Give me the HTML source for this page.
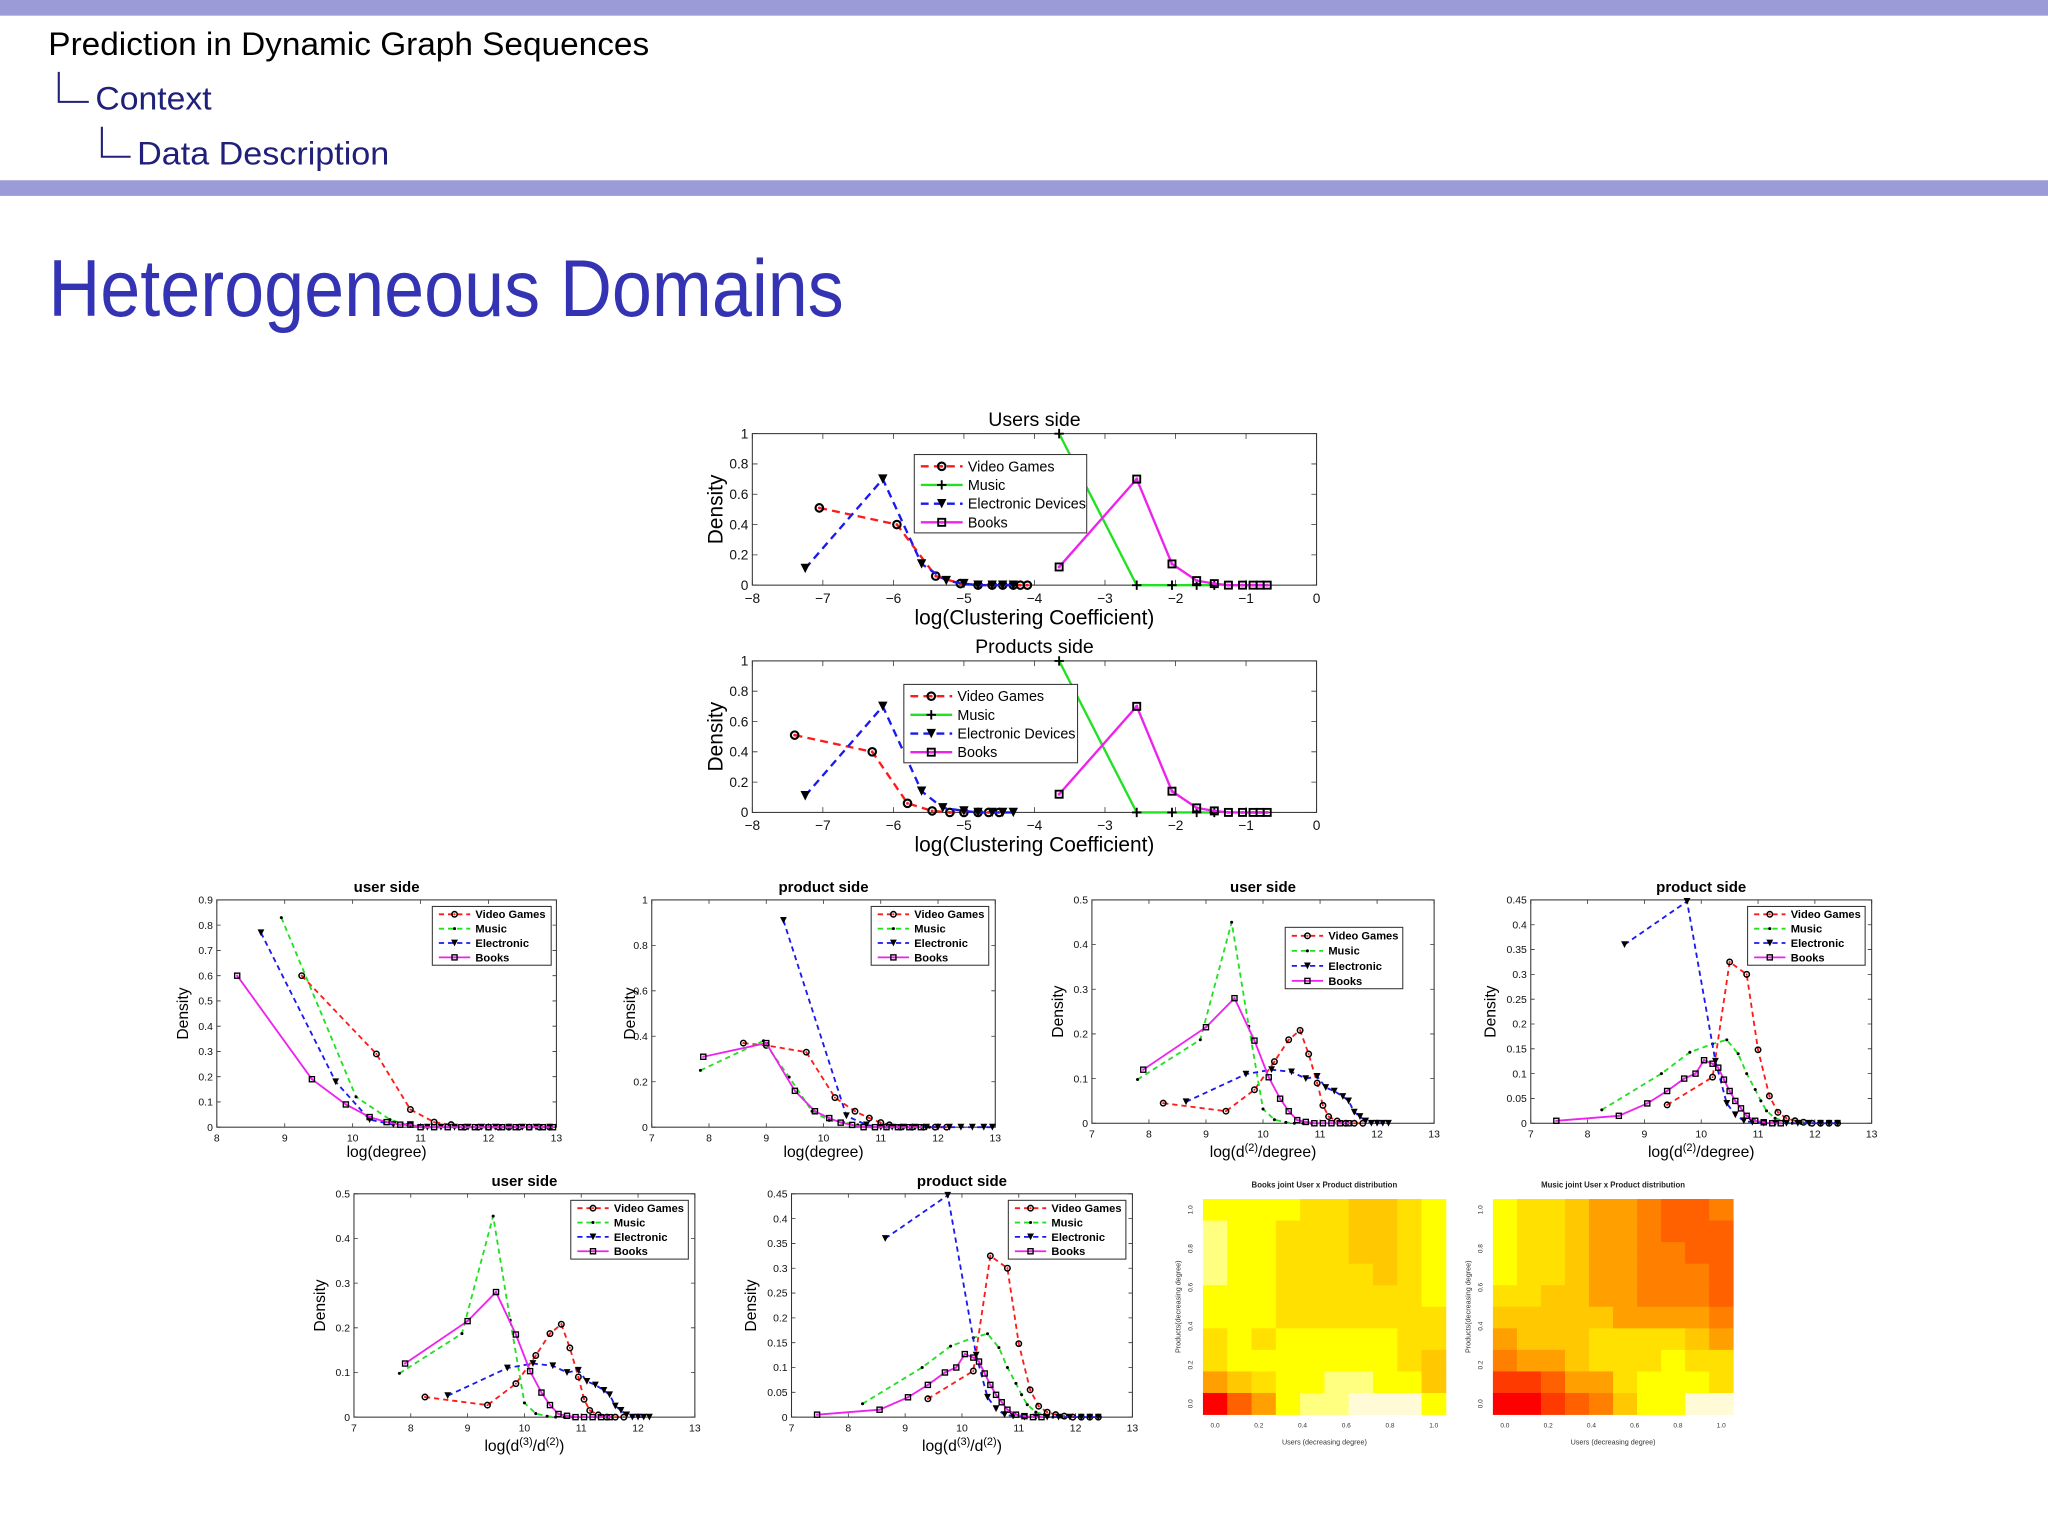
<!DOCTYPE html>
<html><head><meta charset="utf-8"><title>Heterogeneous Domains</title>
<style>html,body{margin:0;padding:0;background:#fff;}svg{display:block;font-family:"Liberation Sans",sans-serif;}</style>
</head><body>
<svg id="slide" width="2048" height="1536" viewBox="0 0 1568 1176" xmlns="http://www.w3.org/2000/svg">
<rect x="0" y="0" width="1568" height="12" fill="#9b9bd8"/>
<text x="37" y="42" font-size="25" fill="#000" textLength="460" lengthAdjust="spacingAndGlyphs">Prediction in Dynamic Graph Sequences</text>
<path d="M45 55 V78 H68" fill="none" stroke="#20207a" stroke-width="1.6"/>
<text x="73" y="84" font-size="25" fill="#20207a" textLength="89" lengthAdjust="spacingAndGlyphs">Context</text>
<path d="M78 97 V120 H100" fill="none" stroke="#20207a" stroke-width="1.6"/>
<text x="105" y="126" font-size="25" fill="#20207a" textLength="193" lengthAdjust="spacingAndGlyphs">Data Description</text>
<rect x="0" y="138" width="1568" height="12" fill="#9b9bd8"/>
<text x="37" y="242" font-size="62" fill="#3333b3" textLength="609" lengthAdjust="spacingAndGlyphs">Heterogeneous Domains</text>
</svg>
<script>
// ===== Clustering coefficient data =====
const ccUserVG_x = [-7.05,-5.95,-5.4,-5.05,-4.8,-4.6,-4.45,-4.3,-4.2,-4.1];
const ccUserVG_y = [0.51,0.40,0.06,0.01,0,0,0,0,0,0];
const ccUserMusic_x = [-3.65,-2.55,-2.05,-1.7,-1.45];
const ccUserMusic_y = [1,0,0,0,0];
const ccUserElec_x = [-7.25,-6.15,-5.6,-5.25,-5.0,-4.8,-4.6,-4.45,-4.3];
const ccUserElec_y = [0.11,0.70,0.14,0.03,0.01,0,0,0,0];
const ccUserBooks_x = [-3.65,-2.55,-2.05,-1.7,-1.45,-1.25,-1.05,-0.9,-0.8,-0.7];
const ccUserBooks_y = [0.12,0.70,0.14,0.03,0.01,0,0,0,0,0];
const ccProdVG_x = [-7.4,-6.3,-5.8,-5.45,-5.2,-5.0,-4.8,-4.65,-4.5];
const ccProdVG_y = [0.51,0.40,0.06,0.01,0,0,0,0,0];
const ccProdMusic_x = [-3.65,-2.55,-2.05,-1.7,-1.45];
const ccProdMusic_y = [1,0,0,0,0];
const ccProdElec_x = [-7.25,-6.15,-5.6,-5.3,-5.0,-4.8,-4.6,-4.45,-4.3];
const ccProdElec_y = [0.11,0.70,0.14,0.03,0.01,0,0,0,0];
const ccProdBooks_x = [-3.65,-2.55,-2.05,-1.7,-1.45,-1.25,-1.05,-0.9,-0.8,-0.7];
const ccProdBooks_y = [0.12,0.70,0.14,0.03,0.01,0,0,0,0,0];
const ccXTicks = [-8,-7,-6,-5,-4,-3,-2,-1,0];
const ccYTicks = [0,0.2,0.4,0.6,0.8,1];
const ccYTickLabels = ["0","0.2","0.4","0.6","0.8","1"];
const ccXTickLabels = ["\u22128","\u22127","\u22126","\u22125","\u22124","\u22123","\u22122","\u22121","0"];

// ===== Degree data =====
const degUserVG_x = [9.25,10.35,10.85,11.2,11.45,11.65,11.85,12.0,12.15,12.3,12.45,12.6,12.75,12.9];
const degUserVG_y = [0.60,0.29,0.07,0.02,0.01,0,0,0,0,0,0,0,0,0];
const degUserMusic_x = [8.95,10.05,10.55,10.8,11.05,11.3,11.5,11.7,11.9,12.1,12.3,12.5,12.7,12.9];
const degUserMusic_y = [0.83,0.12,0.03,0.01,0,0,0,0,0,0,0,0,0,0];
const degUserElec_x = [8.65,9.75,10.25,10.6,10.85,11.1,11.3,11.5,11.7,11.9,12.1,12.3,12.5,12.7,12.9];
const degUserElec_y = [0.77,0.18,0.03,0.01,0.01,0,0,0,0,0,0,0,0,0,0];
const degUserBooks_x = [8.3,9.4,9.9,10.25,10.5,10.7,10.85,11.0,11.2,11.4,11.6,11.8,12.0,12.2,12.4,12.6,12.8,12.95];
const degUserBooks_y = [0.60,0.19,0.09,0.04,0.02,0.01,0.01,0,0,0,0,0,0,0,0,0,0,0];
const degProdVG_x = [8.6,9.0,9.7,10.2,10.55,10.8,11.0,11.15,11.35,11.55,11.75,11.95,12.15];
const degProdVG_y = [0.37,0.36,0.33,0.13,0.07,0.04,0.02,0.01,0,0,0,0,0];
const degProdMusic_x = [7.85,8.95,9.4,9.8,10.1,10.35,10.6,10.85,11.1,11.35,11.6,11.85];
const degProdMusic_y = [0.25,0.38,0.22,0.07,0.03,0.02,0.01,0,0,0,0,0];
const degProdElec_x = [9.3,10.4,10.75,11.0,11.2,11.4,11.6,11.8,12.0,12.2,12.4,12.6,12.8,12.95];
const degProdElec_y = [0.91,0.05,0.01,0,0,0,0,0,0,0,0,0,0,0];
const degProdBooks_x = [7.9,9.0,9.5,9.85,10.1,10.3,10.5,10.7,10.9,11.1,11.3,11.5,11.7];
const degProdBooks_y = [0.31,0.37,0.16,0.07,0.04,0.02,0.01,0,0,0,0,0,0];

// ===== d2 / degree data =====
const d2UserVG_x = [8.25,9.35,9.85,10.2,10.45,10.65,10.8,10.95,11.05,11.15,11.3,11.45,11.6,11.75];
const d2UserVG_y = [0.045,0.027,0.075,0.138,0.187,0.208,0.155,0.09,0.04,0.015,0.005,0,0,0];
const d2UserMusic_x = [7.8,8.9,9.45,9.75,10.0,10.2,10.4,10.55,10.7,10.85];
const d2UserMusic_y = [0.098,0.187,0.45,0.217,0.032,0.008,0.002,0,0,0];
const d2UserElec_x = [8.65,9.7,10.15,10.5,10.75,10.95,11.1,11.25,11.4,11.5,11.6,11.7,11.8,11.9,12.0,12.1,12.2];
const d2UserElec_y = [0.048,0.11,0.12,0.115,0.1,0.105,0.08,0.072,0.06,0.05,0.025,0.015,0.005,0,0,0,0];
const d2UserBooks_x = [7.9,9.0,9.5,9.85,10.1,10.3,10.45,10.6,10.75,10.9,11.05,11.2,11.35,11.5];
const d2UserBooks_y = [0.12,0.215,0.28,0.185,0.103,0.055,0.027,0.007,0.003,0,0,0,0,0];
const d2ProdVG_x = [9.4,10.2,10.5,10.8,11.0,11.2,11.35,11.5,11.65,11.8,11.95,12.1,12.25,12.4];
const d2ProdVG_y = [0.037,0.093,0.325,0.3,0.148,0.055,0.022,0.01,0.005,0.002,0,0,0,0];
const d2ProdMusic_x = [8.25,9.3,9.8,10.2,10.45,10.65,10.8,10.95,11.05,11.15,11.3,11.45,11.6,11.75,11.9];
const d2ProdMusic_y = [0.027,0.1,0.143,0.16,0.168,0.14,0.1,0.068,0.045,0.025,0.01,0.005,0,0,0];
const d2ProdElec_x = [8.65,9.75,10.25,10.45,10.6,10.75,10.9,11.1,11.3,11.5,11.7,11.9,12.1,12.25,12.4];
const d2ProdElec_y = [0.36,0.447,0.125,0.04,0.017,0.005,0.002,0,0,0,0,0,0,0,0];
const d2ProdBooks_x = [7.45,8.55,9.05,9.4,9.7,9.9,10.05,10.2,10.3,10.4,10.5,10.6,10.7,10.8,10.95,11.1,11.25,11.4];
const d2ProdBooks_y = [0.005,0.015,0.04,0.065,0.09,0.1,0.127,0.12,0.112,0.088,0.065,0.045,0.03,0.015,0.005,0.002,0,0];

// ===== d3 / d2 data =====
const d3UserVG_x = [8.25,9.35,9.85,10.2,10.45,10.65,10.8,10.95,11.05,11.15,11.3,11.45,11.6,11.75];
const d3UserVG_y = [0.045,0.027,0.075,0.138,0.187,0.208,0.155,0.09,0.04,0.015,0.005,0,0,0];
const d3UserMusic_x = [7.8,8.9,9.45,9.75,10.0,10.2,10.4,10.55,10.7,10.85];
const d3UserMusic_y = [0.098,0.187,0.45,0.217,0.032,0.008,0.002,0,0,0];
const d3UserElec_x = [8.65,9.7,10.15,10.5,10.75,10.95,11.1,11.25,11.4,11.5,11.6,11.7,11.8,11.9,12.0,12.1,12.2];
const d3UserElec_y = [0.048,0.11,0.12,0.115,0.1,0.105,0.08,0.072,0.06,0.05,0.025,0.015,0.005,0,0,0,0];
const d3UserBooks_x = [7.9,9.0,9.5,9.85,10.1,10.3,10.45,10.6,10.75,10.9,11.05,11.2,11.35,11.5];
const d3UserBooks_y = [0.12,0.215,0.28,0.185,0.103,0.055,0.027,0.007,0.003,0,0,0,0,0];
const d3ProdVG_x = [9.4,10.2,10.5,10.8,11.0,11.2,11.35,11.5,11.65,11.8,11.95,12.1,12.25,12.4];
const d3ProdVG_y = [0.037,0.093,0.325,0.3,0.148,0.055,0.022,0.01,0.005,0.002,0,0,0,0];
const d3ProdMusic_x = [8.25,9.3,9.8,10.2,10.45,10.65,10.8,10.95,11.05,11.15,11.3,11.45,11.6,11.75,11.9];
const d3ProdMusic_y = [0.027,0.1,0.143,0.16,0.168,0.14,0.1,0.068,0.045,0.025,0.01,0.005,0,0,0];
const d3ProdElec_x = [8.65,9.75,10.25,10.45,10.6,10.75,10.9,11.1,11.3,11.5,11.7,11.9,12.1,12.25,12.4];
const d3ProdElec_y = [0.36,0.447,0.125,0.04,0.017,0.005,0.002,0,0,0,0,0,0,0,0];
const d3ProdBooks_x = [7.45,8.55,9.05,9.4,9.7,9.9,10.05,10.2,10.3,10.4,10.5,10.6,10.7,10.8,10.95,11.1,11.25,11.4];
const d3ProdBooks_y = [0.005,0.015,0.04,0.065,0.09,0.1,0.127,0.12,0.112,0.088,0.065,0.045,0.03,0.015,0.005,0.002,0,0];

// ===== Heatmap levels (rows top->bottom, 0=cream .. 9=red) =====
const booksHeat = [
 [2,2,2,2,3,3,4,4,3,2],
 [1,2,2,3,3,3,4,4,3,2],
 [1,2,2,3,3,3,4,4,3,2],
 [1,2,2,3,3,3,3,4,3,2],
 [2,2,2,3,3,3,3,3,3,2],
 [2,2,2,3,3,3,3,3,3,3],
 [3,2,3,2,2,2,2,2,3,3],
 [3,2,2,2,2,2,2,2,3,4],
 [5,4,3,2,2,1,1,2,2,4],
 [9,7,5,2,1,1,0,0,0,2]];
const musicHeat = [
 [2,3,3,4,5,5,6,7,7,6],
 [2,3,3,4,5,5,6,7,7,7],
 [2,3,3,4,5,5,6,6,7,7],
 [2,3,3,4,5,5,6,6,6,7],
 [3,3,4,4,5,5,6,6,6,7],
 [4,4,4,4,4,5,5,5,5,6],
 [5,4,4,4,3,3,3,3,4,5],
 [6,5,5,4,3,3,3,2,3,3],
 [8,8,7,5,5,3,2,2,2,3],
 [9,9,8,7,6,4,2,2,0,0]];
const heatTicks = [0,0.2,0.4,0.6,0.8,1.0];
const heatTickLabels = ["0.0","0.2","0.4","0.6","0.8","1.0"];

const palette = ["#fffbd6","#ffff80","#ffff00","#ffe000","#ffc800","#ff9f00","#ff8000","#ff6000","#ff3a00","#ff0000"];
const svg = document.getElementById('slide');
const NS = "http://www.w3.org/2000/svg";
function mk(tag, attrs, parent){
  const e = document.createElementNS(NS, tag);
  for (const k in attrs) e.setAttribute(k, attrs[k]);
  (parent||svg).appendChild(e);
  return e;
}
function marker(g, kind, px, py, s, color){
  let m;
  if (kind==='o'){ m = mk('circle',{cx:px,cy:py,r:s*0.8,fill:'none',stroke:'#000','stroke-width':s*0.45},g);
    mk('circle',{cx:px,cy:py,r:s*0.3,fill:color},g); }
  else if (kind==='+'){ m = mk('path',{d:`M${px-s} ${py}H${px+s}M${px} ${py-s}V${py+s}`,stroke:'#000','stroke-width':s*0.4},g); }
  else if (kind==='*'){ m = mk('circle',{cx:px,cy:py,r:s*0.45,fill:'#000'},g); }
  else if (kind==='v'){ m = mk('path',{d:`M${px-s} ${py-s}H${px+s}L${px} ${py+s}Z`,fill:'#000'},g); }
  else if (kind==='s'){ m = mk('rect',{x:px-s*0.75,y:py-s*0.75,width:s*1.5,height:s*1.5,fill:'none',stroke:'#000','stroke-width':s*0.4},g);
    mk('rect',{x:px-s*0.3,y:py-s*0.3,width:s*0.6,height:s*0.6,fill:color},g); }
  
  
}
function chart(c){
  const g = mk('g',{});
  
  
  const sx = v => c.x0 + (v - c.xmin)/(c.xmax - c.xmin)*(c.x1 - c.x0);
  const sy = v => c.y1 - (v - c.ymin)/(c.ymax - c.ymin)*(c.y1 - c.y0);
  const fr = mk('rect',{x:c.x0,y:c.y0,width:c.x1-c.x0,height:c.y1-c.y0,fill:'#fff',stroke:'#333','stroke-width':0.8},g);
  
  
  const tl = c.tickLen;
  c.xticks.forEach((t,i)=>{
    const X = sx(t);
    mk('path',{d:`M${X} ${c.y1}V${c.y1-tl}M${X} ${c.y0}V${c.y0+tl}`,stroke:'#333','stroke-width':0.6},g);
    const tx = mk('text',{x:X,y:c.y1+c.tf+3,'font-size':c.tf,'text-anchor':'middle',fill:'#111'},g);
    tx.textContent = c.xlabels[i];
    
    
  });
  c.yticks.forEach((t,i)=>{
    const Y = sy(t);
    mk('path',{d:`M${c.x0} ${Y}H${c.x0+tl}M${c.x1} ${Y}H${c.x1-tl}`,stroke:'#333','stroke-width':0.6},g);
    const ty = mk('text',{x:c.x0-3,y:Y+c.tf*0.35,'font-size':c.tf,'text-anchor':'end',fill:'#111'},g);
    ty.textContent = c.ylabels[i];
    
    
  });
  const ttl = mk('text',{x:(c.x0+c.x1)/2,y:c.y0-6,'font-size':c.titleSize,'text-anchor':'middle','font-weight':c.bold?'bold':'normal',fill:'#000'},g);
  ttl.textContent = c.title;
  
  
  const xl = mk('text',{x:(c.x0+c.x1)/2,y:c.xlabY,'font-size':c.labSize,'text-anchor':'middle',fill:'#000'},g);
  if (c.sup){
    xl.appendChild(document.createTextNode(c.xlab[0]));
    const t1 = mk('tspan',{dy:-c.labSize*0.4,'font-size':c.labSize*0.7},xl); t1.textContent = c.sup[0];
    const t2 = mk('tspan',{dy:c.labSize*0.4},xl); t2.textContent = c.xlab[1];
    if (c.sup[1]){ const t3 = mk('tspan',{dy:-c.labSize*0.4,'font-size':c.labSize*0.7},xl); t3.textContent = c.sup[1];
      const t4 = mk('tspan',{dy:c.labSize*0.4},xl); t4.textContent = c.xlab[2]; }
  } else xl.textContent = c.xlab;
  
  
  const yl = mk('text',{x:c.ylabX,y:(c.y0+c.y1)/2,'font-size':c.labSize,'text-anchor':'middle',transform:`rotate(-90 ${c.ylabX} ${(c.y0+c.y1)/2})`,fill:'#000'},g);
  yl.textContent = 'Density';
  
  
  c.series.forEach(s=>{
    const sg = mk('g',{},g);
    
    
    const pts = s.x.map((v,i)=>sx(v)+','+sy(s.y[i])).join(' ');
    mk('polyline',{points:pts,fill:'none',stroke:s.color,'stroke-width':c.lw,'stroke-dasharray':s.dash?c.dash:'none'},sg);
    s.x.forEach((v,i)=>marker(sg,s.m,sx(v),sy(s.y[i]),c.ms,s.color));
  });
  const L = c.legend;
  const lg = mk('g',{},g);
  
  
  mk('rect',{x:L.x,y:L.y,width:L.w,height:L.h,fill:'#fff',stroke:'#333','stroke-width':0.8},lg);
  c.series.forEach((s,i)=>{
    const Y = L.y + L.pad + i*L.step;
    const eg = mk('g',{},lg);
    
    
    mk('line',{x1:L.x+5,x2:L.x+5+L.line,y1:Y,y2:Y,stroke:s.color,'stroke-width':c.lw,'stroke-dasharray':s.dash?c.dash:'none'},eg);
    marker(eg,s.m,L.x+5+L.line/2,Y,c.ms,s.color);
    const t = mk('text',{x:L.x+9+L.line,y:Y+L.fs*0.35,'font-size':L.fs,'font-weight':c.bold?'bold':'normal',fill:'#000'},eg);
    t.textContent = s.label;
  });
}
function ser(vx,vy,mx,my,ex,ey,bx,by,musicMarker,musicDash,short){
  return [
    {key:'video-games',label:'Video Games',x:vx,y:vy,color:'#ff1a1a',dash:true,m:'o'},
    {key:'music',label:'Music',x:mx,y:my,color:'#22e022',dash:musicDash,m:musicMarker},
    {key:'electronic',label:short?'Electronic':'Electronic Devices',x:ex,y:ey,color:'#1a1aee',dash:true,m:'v'},
    {key:'books',label:'Books',x:bx,y:by,color:'#ee22ee',dash:false,m:'s'}];
}
const big = {xmin:-8,xmax:0,ymin:0,ymax:1,xticks:ccXTicks,xlabels:ccXTickLabels,yticks:ccYTicks,ylabels:ccYTickLabels,
  tf:10.5,tickLen:4,titleSize:15,labSize:16,lw:1.8,ms:3.6,dash:'6 4',bold:false,ylabX:553,xlab:'log(Clustering Coefficient)'};
chart(Object.assign({},big,{name:'users-side-chart',x0:576,x1:1008,y0:332,y1:448,title:'Users side',xlabY:478,
  series:ser(ccUserVG_x,ccUserVG_y,ccUserMusic_x,ccUserMusic_y,ccUserElec_x,ccUserElec_y,ccUserBooks_x,ccUserBooks_y,'+',false,false),
  legend:{x:700,y:348,w:132,h:60,pad:9,step:14.3,line:32,fs:11}}));
chart(Object.assign({},big,{name:'products-side-chart',x0:576,x1:1008,y0:506,y1:622,title:'Products side',xlabY:652,
  series:ser(ccProdVG_x,ccProdVG_y,ccProdMusic_x,ccProdMusic_y,ccProdElec_x,ccProdElec_y,ccProdBooks_x,ccProdBooks_y,'+',false,false),
  legend:{x:692,y:524,w:133,h:60,pad:9,step:14.3,line:32,fs:11}}));
const small = {tf:8,tickLen:3,titleSize:11.5,labSize:12,lw:1.4,ms:2.6,dash:'4 3',bold:true};
function ticks(a,b,s){const r=[];for(let v=a;v<=b+1e-9;v+=s)r.push(+v.toFixed(3));return r;}
const x813=[8,9,10,11,12,13], x713=[7,8,9,10,11,12,13];
const y09=[0,0.1,0.2,0.3,0.4,0.5,0.6,0.7,0.8,0.9], y05=[0,0.1,0.2,0.3,0.4,0.5], y045=[0,0.05,0.1,0.15,0.2,0.25,0.3,0.35,0.4,0.45], y1=[0,0.2,0.4,0.6,0.8,1];
chart(Object.assign({},small,{name:'degree-user-chart',x0:166,x1:426,y0:689,y1:863,xmin:8,xmax:13,ymin:0,ymax:0.9,
  xticks:x813,xlabels:x813.map(String),yticks:y09,ylabels:y09.map(String),title:'user side',xlabY:886,ylabX:144,xlab:'log(degree)',
  series:ser(degUserVG_x,degUserVG_y,degUserMusic_x,degUserMusic_y,degUserElec_x,degUserElec_y,degUserBooks_x,degUserBooks_y,'*',true,true),
  legend:{x:331,y:694,w:91,h:45,pad:6,step:11,line:24,fs:8.5}}));
chart(Object.assign({},small,{name:'degree-product-chart',x0:499,x1:762,y0:689,y1:863,xmin:7,xmax:13,ymin:0,ymax:1,
  xticks:x713,xlabels:x713.map(String),yticks:y1,ylabels:y1.map(String),title:'product side',xlabY:886,ylabX:486,xlab:'log(degree)',
  series:ser(degProdVG_x,degProdVG_y,degProdMusic_x,degProdMusic_y,degProdElec_x,degProdElec_y,degProdBooks_x,degProdBooks_y,'*',true,true),
  legend:{x:667,y:694,w:90,h:45,pad:6,step:11,line:24,fs:8.5}}));
chart(Object.assign({},small,{name:'d2-user-chart',x0:836,x1:1098,y0:689,y1:860,xmin:7,xmax:13,ymin:0,ymax:0.5,
  xticks:x713,xlabels:x713.map(String),yticks:y05,ylabels:y05.map(String),title:'user side',xlabY:886,ylabX:814,xlab:['log(d','/degree)'],sup:['(2)'],
  series:ser(d2UserVG_x,d2UserVG_y,d2UserMusic_x,d2UserMusic_y,d2UserElec_x,d2UserElec_y,d2UserBooks_x,d2UserBooks_y,'*',true,true),
  legend:{x:984,y:710,w:90,h:47,pad:6.5,step:11.5,line:24,fs:8.5}}));
chart(Object.assign({},small,{name:'d2-product-chart',x0:1172,x1:1433,y0:689,y1:860,xmin:7,xmax:13,ymin:0,ymax:0.45,
  xticks:x713,xlabels:x713.map(String),yticks:y045,ylabels:y045.map(String),title:'product side',xlabY:886,ylabX:1145,xlab:['log(d','/degree)'],sup:['(2)'],
  series:ser(d2ProdVG_x,d2ProdVG_y,d2ProdMusic_x,d2ProdMusic_y,d2ProdElec_x,d2ProdElec_y,d2ProdBooks_x,d2ProdBooks_y,'*',true,true),
  legend:{x:1338,y:694,w:90,h:45,pad:6,step:11,line:24,fs:8.5}}));
chart(Object.assign({},small,{name:'d3-user-chart',x0:271,x1:532,y0:914,y1:1085,xmin:7,xmax:13,ymin:0,ymax:0.5,
  xticks:x713,xlabels:x713.map(String),yticks:y05,ylabels:y05.map(String),title:'user side',xlabY:1111,ylabX:249,xlab:['log(d','/d',')'],sup:['(3)','(2)'],
  series:ser(d3UserVG_x,d3UserVG_y,d3UserMusic_x,d3UserMusic_y,d3UserElec_x,d3UserElec_y,d3UserBooks_x,d3UserBooks_y,'*',true,true),
  legend:{x:437,y:919,w:90,h:45,pad:6,step:11,line:24,fs:8.5}}));
chart(Object.assign({},small,{name:'d3-product-chart',x0:606,x1:867,y0:914,y1:1085,xmin:7,xmax:13,ymin:0,ymax:0.45,
  xticks:x713,xlabels:x713.map(String),yticks:y045,ylabels:y045.map(String),title:'product side',xlabY:1111,ylabX:579,xlab:['log(d','/d',')'],sup:['(3)','(2)'],
  series:ser(d3ProdVG_x,d3ProdVG_y,d3ProdMusic_x,d3ProdMusic_y,d3ProdElec_x,d3ProdElec_y,d3ProdBooks_x,d3ProdBooks_y,'*',true,true),
  legend:{x:772,y:919,w:90,h:45,pad:6,step:11,line:24,fs:8.5}}));

function heat(name,title,data,x0,x1,y0,y1){
  const g = mk('g',{});
  
  
  const rows = data.length, cols = data[0].length;
  const cw = (x1-x0)/cols, ch = (y1-y0)/rows;
  data.forEach((row,r)=>row.forEach((v,c)=>{
    const cell = mk('rect',{x:x0+c*cw,y:y0+r*ch,width:cw+0.3,height:ch+0.3,fill:palette[v]},g);
    
    
  }));
  const t = mk('text',{x:(x0+x1)/2,y:y0-9,'font-size':6,'font-weight':'bold','text-anchor':'middle',fill:'#222'},g);
  t.textContent = title;
  
  
  const sx = v => x0 + cw/2 + v*((x1-x0)-cw);
  const sy = v => y1 - ch/2 - v*((y1-y0)-ch);
  heatTicks.forEach((v,i)=>{
    const a = mk('text',{x:sx(v),y:y1+10,'font-size':5,'text-anchor':'middle',fill:'#333'},g);
    a.textContent = heatTickLabels[i];
    
    
    const b = mk('text',{x:x0-8,y:sy(v),'font-size':5,'text-anchor':'middle',fill:'#333',transform:`rotate(-90 ${x0-8} ${sy(v)})`},g);
    b.textContent = heatTickLabels[i];
    
    
  });
  const xl = mk('text',{x:(x0+x1)/2,y:y1+23,'font-size':5.5,'text-anchor':'middle',fill:'#333'},g);
  xl.textContent = 'Users (decreasing degree)';
  
  
  const yx = x0-17, yy=(y0+y1)/2;
  const yl = mk('text',{x:yx,y:yy,'font-size':5.5,'text-anchor':'middle',fill:'#333',transform:`rotate(-90 ${yx} ${yy})`},g);
  yl.textContent = 'Products(decreasing degree)';
  
  
}
heat('books-heatmap','Books joint User x Product distribution',booksHeat,921,1107,918,1083);
heat('music-heatmap','Music joint User x Product distribution',musicHeat,1143,1327,918,1083);
</script>
</body></html>
